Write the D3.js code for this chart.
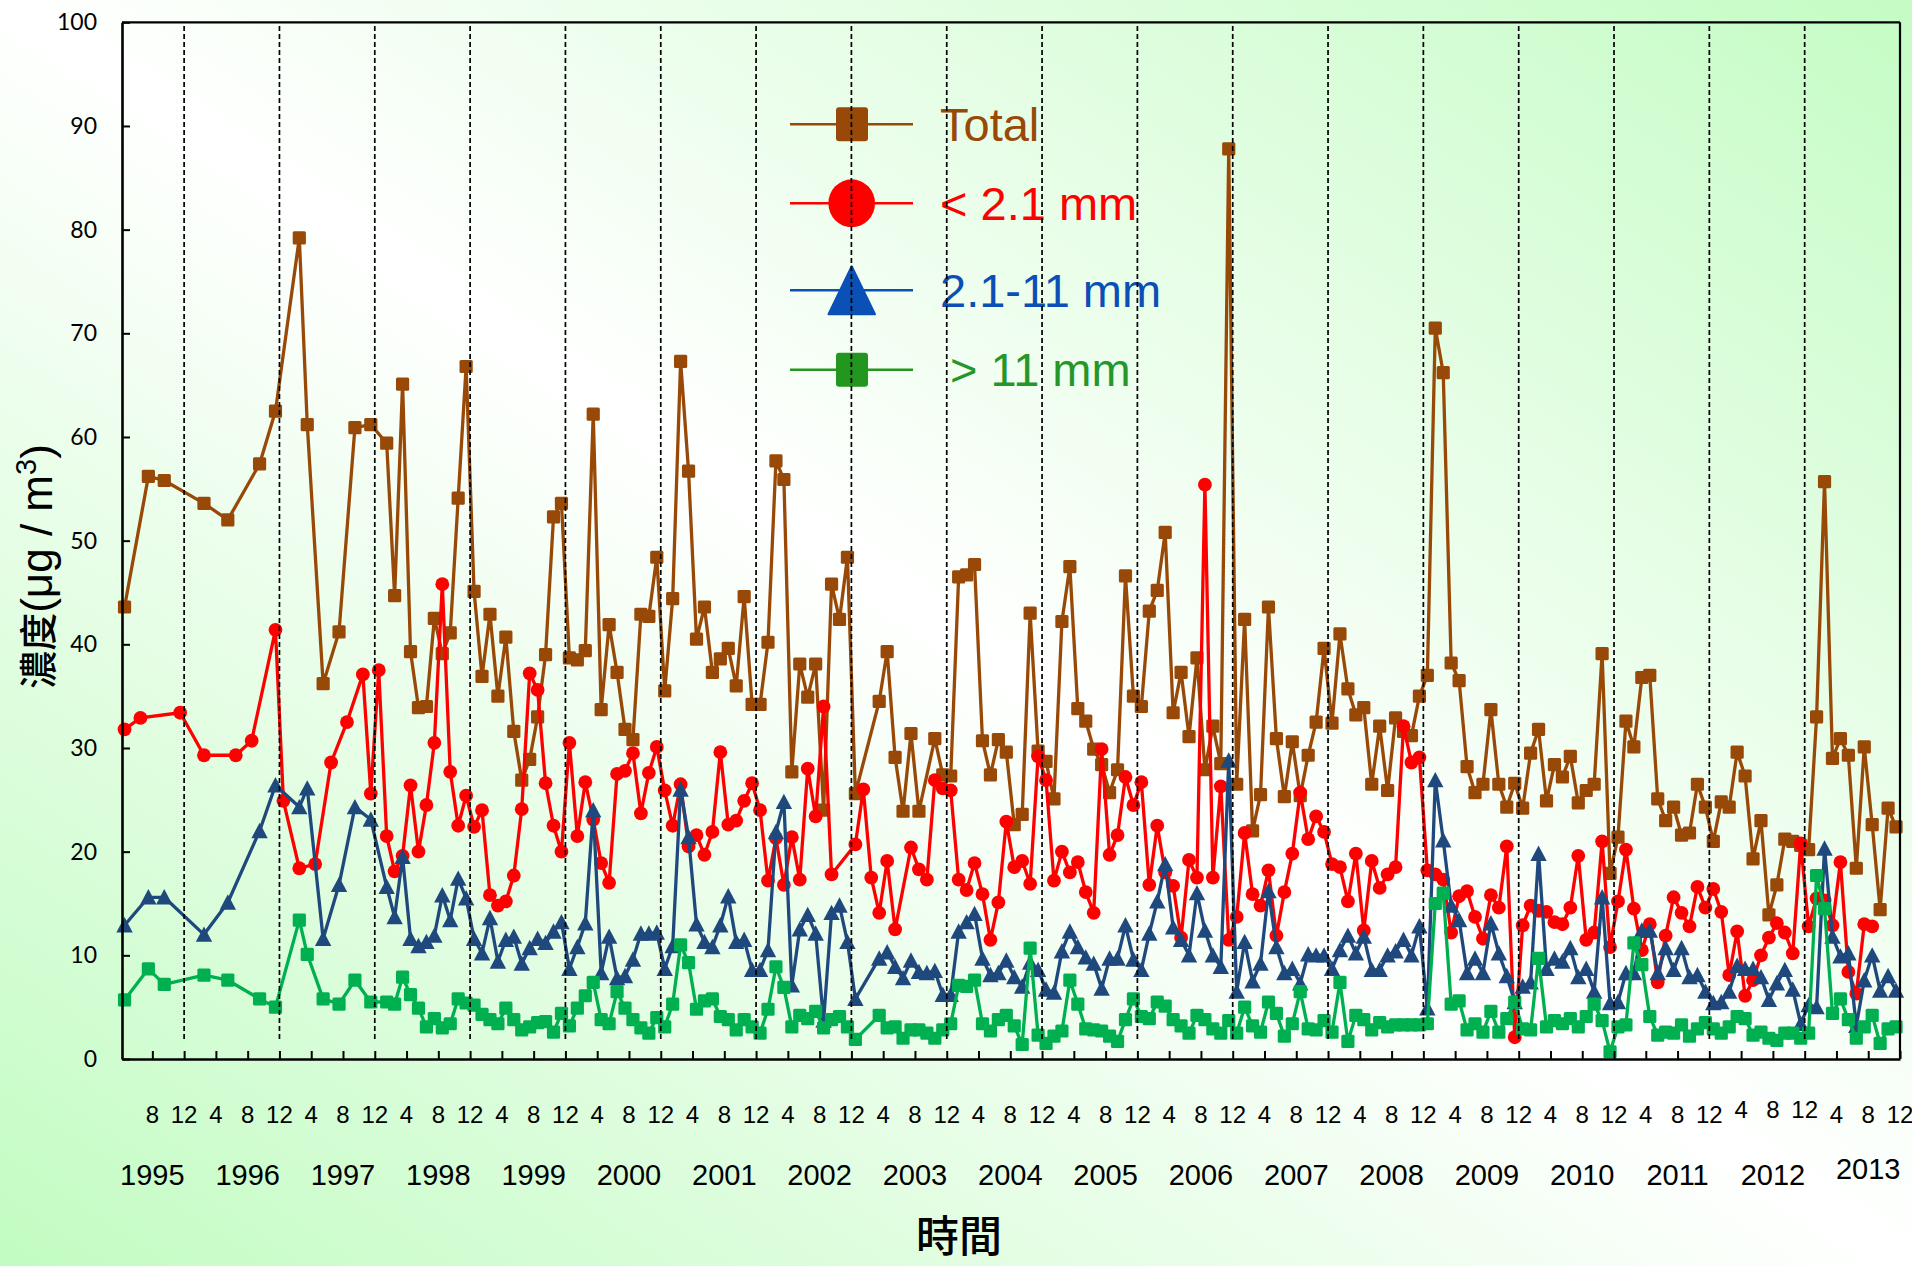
<!DOCTYPE html>
<html>
<head>
<meta charset="utf-8">
<script src="https://cdn.jsdelivr.net/npm/d3@7"></script>
<style>
html,body{margin:0;padding:0;overflow:hidden;background:#fff;}
svg{display:block;}
</style>
</head>
<body>
<svg id="chart" width="1912" height="1266"></svg>
<script>
// ---------- DATA ----------
// month index: 0 = Apr 1995, 8 = Dec 1995, 224 = Dec 2013 (end of axis)
const yTicks = [0,10,20,30,40,50,60,70,80,90,100];
const years = ["1995","1996","1997","1998","1999","2000","2001","2002","2003","2004","2005","2006","2007","2008","2009","2010","2011","2012","2013"];
const seriesNames = ["Total", "< 2.1 mm", "2.1-11 mm", "> 11 mm"];

const earlyMonths = [0,3,5,10,13,17,19,22,23,25,27,29,31];
const redEarlyMonths = [0,2,7,10,14,16,19,20,22,24,26,28];

const totalMonths = earlyMonths.concat(d3.range(33,93), d3.range(95,101), d3.range(102,224));
const redMonths = redEarlyMonths.concat(d3.range(30,90), d3.range(92,98), d3.range(99,221));
const blueMonths = earlyMonths.concat(d3.range(33,93), d3.range(95,224));
const greenMonths = earlyMonths.concat(d3.range(33,93), d3.range(95,224));

const totalValues = [
 43.6,56.2,55.8,53.6,52.0,57.4,62.5,79.2,61.2,36.2,41.2,60.9,61.2,
 59.4,44.7,65.1,39.3,33.9,34.0,42.5,39.1,41.1,54.1,66.8,45.1,
 36.9,42.9,35.0,40.7,31.6,26.9,28.9,33.0,39.0,52.3,53.6,38.7,
 38.5,39.4,62.2,33.7,41.9,37.3,31.8,30.8,42.9,42.7,48.4,35.5,
 44.4,67.3,56.7,40.5,43.6,37.3,38.6,39.6,36.0,44.6,34.2,34.2,
 40.2,57.7,55.9,27.7,38.1,34.9,38.1,24.0,45.8,42.4,48.4,25.6,
 34.5,39.3,29.1,23.9,31.4,23.9,
 30.9,27.4,27.3,
 46.5,46.7,47.7,30.7,27.4,30.8,29.6,22.6,23.6,43.0,29.7,28.7,
 25.1,42.2,47.5,33.8,32.6,29.9,28.4,25.7,27.9,46.6,35.0,34.0,
 43.2,45.2,50.8,33.4,37.3,31.1,38.7,27.9,32.1,28.5,87.8,26.5,
 42.4,22.0,25.5,43.6,30.9,25.3,30.6,25.4,29.3,32.5,39.6,32.4,
 41.0,35.7,33.2,33.9,26.5,32.1,25.9,32.9,31.6,31.2,35.0,37.0,
 70.5,66.2,38.2,36.5,28.2,25.7,26.5,33.7,26.5,24.3,26.6,24.2,
 29.5,31.8,24.9,28.4,27.2,29.2,24.7,25.9,26.5,39.1,17.9,21.4,
 32.6,30.1,36.8,37.0,25.1,23.0,24.3,21.6,21.8,26.5,24.3,21.0,
 24.8,24.3,29.6,27.3,19.3,23.0,13.9,16.8,21.2,21.0,20.6,20.2,
 33.0,55.7,29.0,30.9,29.3,18.4,30.1,22.6,14.4,24.2,22.4
];

const redValues = [
 31.8,32.9,33.4,29.3,29.3,30.7,41.4,24.9,18.4,18.8,28.6,32.5,
 37.1,25.6,37.5,21.5,18.1,19.6,26.4,20.0,24.5,30.5,45.8,27.7,
 22.5,25.4,22.4,24.0,15.8,14.8,15.2,17.7,24.1,37.2,35.6,26.6,
 22.5,20.0,30.5,21.5,26.7,23.1,18.9,17.0,27.5,27.8,29.5,23.7,
 27.6,30.1,25.9,22.5,26.5,20.5,21.6,19.7,21.9,29.6,22.6,23.0,
 24.9,26.6,24.0,17.2,21.3,16.8,21.4,17.3,28.0,23.4,34.0,17.8,
 20.7,26.0,17.5,14.1,19.1,12.5,
 20.4,18.3,17.3,26.9,26.1,25.9,17.3,16.3,18.9,15.9,11.5,15.1,
 22.9,18.5,19.1,16.9,29.2,26.9,17.2,20.0,18.0,19.0,16.1,14.1,
 29.9,19.7,21.6,27.2,24.5,26.7,16.8,22.5,18.0,16.7,11.7,19.2,
 17.5,55.4,17.5,26.3,11.5,13.7,21.8,15.9,14.8,18.2,11.9,16.1,
 19.8,25.7,21.2,23.4,21.9,18.8,18.5,15.2,19.8,12.4,19.1,16.5,
 17.8,18.5,32.1,28.6,29.1,18.2,17.8,17.3,12.2,15.7,16.2,13.7,
 11.6,15.8,14.6,20.5,2.1,12.9,14.8,14.3,14.2,13.2,13.0,14.6,
 19.6,11.5,12.2,21.0,10.8,15.2,20.2,14.5,10.5,13.0,7.4,11.9,
 15.6,14.1,12.8,16.6,14.6,16.4,14.2,8.1,12.3,6.1,7.6,10.0,
 11.7,13.1,12.2,10.2,20.8,12.8,15.5,15.3,12.9,19.0,8.4,6.3,
 13.0,12.8
];

const blueValues = [
 12.9,15.6,15.6,12.0,15.1,22.0,26.4,24.3,26.1,11.6,16.8,24.3,23.1,
 16.6,13.7,19.5,11.6,10.9,11.3,11.9,15.8,13.4,17.4,15.5,11.6,
 10.2,13.6,9.4,11.5,11.8,9.2,10.7,11.6,11.2,12.3,13.2,8.7,
 10.8,13.1,24.0,8.3,11.8,7.8,8.0,9.6,12.1,12.1,12.2,8.7,
 10.9,26.0,21.4,13.0,11.3,10.8,12.9,15.7,11.3,11.5,8.6,8.6,
 10.5,21.9,24.8,7.1,12.5,13.9,12.1,3.7,14.1,14.8,11.3,5.8,
 9.7,10.3,8.9,7.8,9.5,8.4,8.3,8.5,6.2,6.2,12.3,13.2,
 14.0,9.7,8.1,8.3,9.5,7.9,7.0,9.3,8.6,6.7,6.4,10.4,
 12.3,10.8,9.8,9.2,6.8,9.7,9.7,12.9,9.6,8.6,12.1,15.2,
 18.8,12.7,11.5,10.0,16.0,12.4,10.0,8.9,28.8,6.5,11.3,7.5,
 9.2,16.2,10.8,8.3,8.7,7.3,10.1,10.0,10.0,8.7,10.5,11.9,
 10.2,11.8,8.6,8.6,10.0,10.4,11.5,10.0,12.8,4.9,26.9,21.1,
 14.8,13.4,8.3,9.7,8.3,13.1,10.2,8.0,5.5,7.0,7.4,19.8,
 8.7,9.7,9.4,10.7,7.9,8.7,6.5,15.6,5.4,5.5,8.3,8.3,
 12.4,12.4,8.3,10.7,8.6,10.7,7.9,8.1,6.5,5.4,5.5,6.5,
 9.0,8.7,8.7,7.9,5.7,7.3,8.6,6.7,3.4,5.2,5.0,20.3,
 11.8,9.9,10.2,3.2,7.6,10.0,6.6,8.0,6.6
];

const greenValues = [
 5.7,8.7,7.2,8.1,7.6,5.8,5.0,13.4,10.1,5.8,5.3,7.6,5.5,
 5.5,5.3,7.9,6.2,4.9,3.1,3.9,3.0,3.4,5.8,5.4,5.2,
 4.3,3.8,3.4,4.9,3.8,2.8,3.1,3.5,3.6,2.6,4.4,3.2,
 4.9,6.1,7.4,3.8,3.4,6.5,4.9,3.8,3.0,2.5,4.0,3.1,
 5.3,11.0,9.3,4.8,5.6,5.8,4.1,3.8,2.8,3.8,3.1,2.5,
 4.8,8.9,6.9,3.1,4.2,3.9,4.6,3.0,3.8,4.1,3.1,1.9,
 4.2,3.0,3.1,2.0,2.8,2.8,2.5,2.0,2.8,3.4,7.1,7.0,
 7.6,3.4,2.7,3.8,4.2,3.2,1.4,10.7,2.3,1.5,2.2,2.7,
 7.6,5.3,2.9,2.8,2.7,2.2,1.7,3.8,5.8,4.1,3.9,5.5,
 5.1,3.8,3.2,2.5,4.2,3.8,2.9,2.5,3.7,2.5,5.0,3.2,
 2.6,5.5,4.4,2.2,3.4,6.5,2.9,2.8,3.7,2.6,7.4,1.7,
 4.2,3.8,2.8,3.5,3.1,3.3,3.3,3.3,3.3,3.4,15.0,16.0,
 5.3,5.6,2.8,3.4,2.6,4.6,2.6,3.9,5.5,2.9,2.8,9.7,
 3.1,3.7,3.4,3.9,3.1,4.1,5.3,3.7,0.7,3.1,3.3,11.2,
 9.1,4.1,2.3,2.6,2.5,3.3,2.2,2.9,3.5,2.9,2.5,3.1,
 4.1,3.9,2.3,2.6,2.0,1.8,2.5,2.5,2.0,2.5,17.7,14.5,
 4.4,5.8,3.8,2.0,3.1,4.2,1.5,2.9,3.1
];

// ---------- DRAW ----------
const W = 1912, H = 1266;
const svg = d3.select("#chart");
const defs = svg.append("defs");
const bg = defs.append("linearGradient").attr("id","bg")
  .attr("x1",0).attr("y1",1).attr("x2",1).attr("y2",0);
bg.append("stop").attr("offset","0").attr("stop-color","#c2fcc2");
bg.append("stop").attr("offset","0.5").attr("stop-color","#ffffff");
bg.append("stop").attr("offset","1").attr("stop-color","#c4fcc4");
svg.append("rect").attr("width",W).attr("height",H).attr("fill","url(#bg)");

const x = d3.scaleLinear().domain([0.18,224]).range([122,1900]);
const y = d3.scaleLinear().domain([0,100]).range([1059,22.3]);

// legend (drawn first: dashed grid lines pass over it)
const legendColors = {
  line: ["#984807","#ff0000","#0b50b5","#23961f"],
  text: ["#984807","#ff0000","#0b4fb5","#25962a"]
};
const legendY = [124.3, 203.3, 290.3, 369.7];
const lg = svg.append("g");
seriesNames.forEach((name,i)=>{
  const cy = legendY[i];
  lg.append("line").attr("x1",790).attr("x2",913).attr("y1",cy).attr("y2",cy)
    .attr("stroke",legendColors.line[i]).attr("stroke-width",2.6);
  if(i===0||i===3){
    lg.append("rect").attr("x",836).attr("y",cy-17).attr("width",32).attr("height",34)
      .attr("rx",3).attr("fill",legendColors.line[i]);
  } else if(i===1){
    lg.append("ellipse").attr("cx",851.7).attr("cy",cy).attr("rx",23.3).attr("ry",24)
      .attr("fill",legendColors.line[i]);
  } else {
    lg.append("path").attr("d",`M851.7,${cy-24} L875,${cy+24} L828.5,${cy+24} Z`)
      .attr("fill",legendColors.line[i]).attr("stroke",legendColors.line[i])
      .attr("stroke-width",2).attr("stroke-linejoin","round");
  }
  lg.append("text").attr("x", i===3 ? 950 : 940).attr("y", cy+16.5)
    .attr("font-family","Liberation Sans, Arial, sans-serif").attr("font-size",47)
    .attr("fill",legendColors.text[i]).text(name);
});

// series
const line = d3.line().x(d=>x(d[0]+0.5)).y(d=>y(d[1]));
const series = [
  {m: totalMonths, v: totalValues, color:"#984807", marker:"square"},
  {m: redMonths, v: redValues, color:"#ff0000", marker:"circle"},
  {m: blueMonths, v: blueValues, color:"#1f497d", marker:"triangle"},
  {m: greenMonths, v: greenValues, color:"#00b050", marker:"square"}
];
series.forEach(s=>{
  const pts = d3.zip(s.m, s.v);
  const g = svg.append("g");
  g.append("path").datum(pts).attr("d",line).attr("fill","none")
    .attr("stroke",s.color).attr("stroke-width",3.3).attr("stroke-linejoin","round");
  const mk = g.selectAll(".mk").data(pts).enter();
  if(s.marker==="square"){
    mk.append("rect").attr("x",d=>x(d[0]+0.5)-6.6).attr("y",d=>y(d[1])-6.6)
      .attr("width",13.2).attr("height",13.2).attr("rx",1.5).attr("fill",s.color);
  } else if(s.marker==="circle"){
    mk.append("circle").attr("cx",d=>x(d[0]+0.5)).attr("cy",d=>y(d[1])).attr("r",6.9)
      .attr("fill",s.color);
  } else {
    mk.append("path").attr("d",d=>{
      const cx=x(d[0]+0.5), cy=y(d[1]);
      return `M${cx},${cy-8.2} L${cx+8.2},${cy+7.2} L${cx-8.2},${cy+7.2} Z`;
    }).attr("fill",s.color);
  }
});

// dashed December lines
const decMonths = d3.range(8,213,12);
svg.append("g").selectAll("line").data(decMonths).enter().append("line")
  .attr("x1",d=>x(d)).attr("x2",d=>x(d)).attr("y1",26).attr("y2",1040)
  .attr("stroke","#000").attr("stroke-width",1.7).attr("stroke-dasharray","5,3");

// frame top / right
svg.append("line").attr("x1",122).attr("x2",1900).attr("y1",22.3).attr("y2",22.3)
  .attr("stroke","#000").attr("stroke-width",2.2);
svg.append("line").attr("x1",1900).attr("x2",1900).attr("y1",22.3).attr("y2",1059)
  .attr("stroke","#000").attr("stroke-width",2.2);

// y axis
const yAxis = svg.append("g").attr("transform","translate(122,0)")
  .call(d3.axisLeft(y).tickValues(yTicks).tickSizeInner(-8).tickSizeOuter(0).tickPadding(25));
yAxis.select(".domain").attr("stroke","#000").attr("stroke-width",2.6);
yAxis.selectAll(".tick line").attr("stroke","#000").attr("stroke-width",2);
yAxis.selectAll(".tick text").attr("font-family","Lato, 'Open Sans', sans-serif")
  .attr("font-size",23).attr("fill","#000");

// x axis
const tickMonths = d3.range(4,225,4);
const xAxis = svg.append("g").attr("transform","translate(0,1059)")
  .call(d3.axisBottom(x).tickValues(tickMonths).tickSizeInner(-8).tickSizeOuter(0).tickFormat(""));
xAxis.select(".domain").attr("stroke","#000").attr("stroke-width",2.6);
xAxis.selectAll(".tick line").attr("stroke","#000").attr("stroke-width",2);

svg.append("g").selectAll("text").data(tickMonths).enter().append("text")
  .attr("x",d=>x(d)).attr("y",d=> (d>=204 && d<=212) ? 1118 : 1122.5)
  .attr("text-anchor","middle").attr("font-family","Liberation Sans, Arial, sans-serif")
  .attr("font-size",24).attr("fill","#000")
  .text(d=> String(((d+3)%12)+1));

svg.append("g").selectAll("text").data(years).enter().append("text")
  .attr("x",(d,i)=>x(4+12*i)).attr("y",(d,i)=> i===18 ? 1179 : 1185)
  .attr("text-anchor","middle").attr("font-family","Liberation Sans, Arial, sans-serif")
  .attr("font-size",29).attr("fill","#000").text(d=>d);

// axis titles
svg.append("text").attr("x",959).attr("y",1252).attr("text-anchor","middle")
  .attr("font-family","'Noto Sans CJK TC', 'Noto Sans CJK SC', sans-serif")
  .attr("font-size",43).attr("font-weight",500).attr("fill","#000").text("時間");

const yt = svg.append("text").attr("transform","translate(52,566.5) rotate(-90)")
  .attr("text-anchor","middle").attr("fill","#000");
yt.append("tspan").attr("font-family","'Noto Sans CJK TC', 'Noto Sans CJK SC', sans-serif")
  .attr("font-size",38).attr("font-weight",500).text("濃度");
yt.append("tspan").attr("font-family","Liberation Sans, Arial, sans-serif")
  .attr("font-size",44).text("(μg / m");
yt.append("tspan").attr("font-family","Liberation Sans, Arial, sans-serif")
  .attr("font-size",29).attr("dy",-16).text("3");
yt.append("tspan").attr("font-family","Liberation Sans, Arial, sans-serif")
  .attr("font-size",44).attr("dy",16).text(")");
</script>
</body>
</html>
